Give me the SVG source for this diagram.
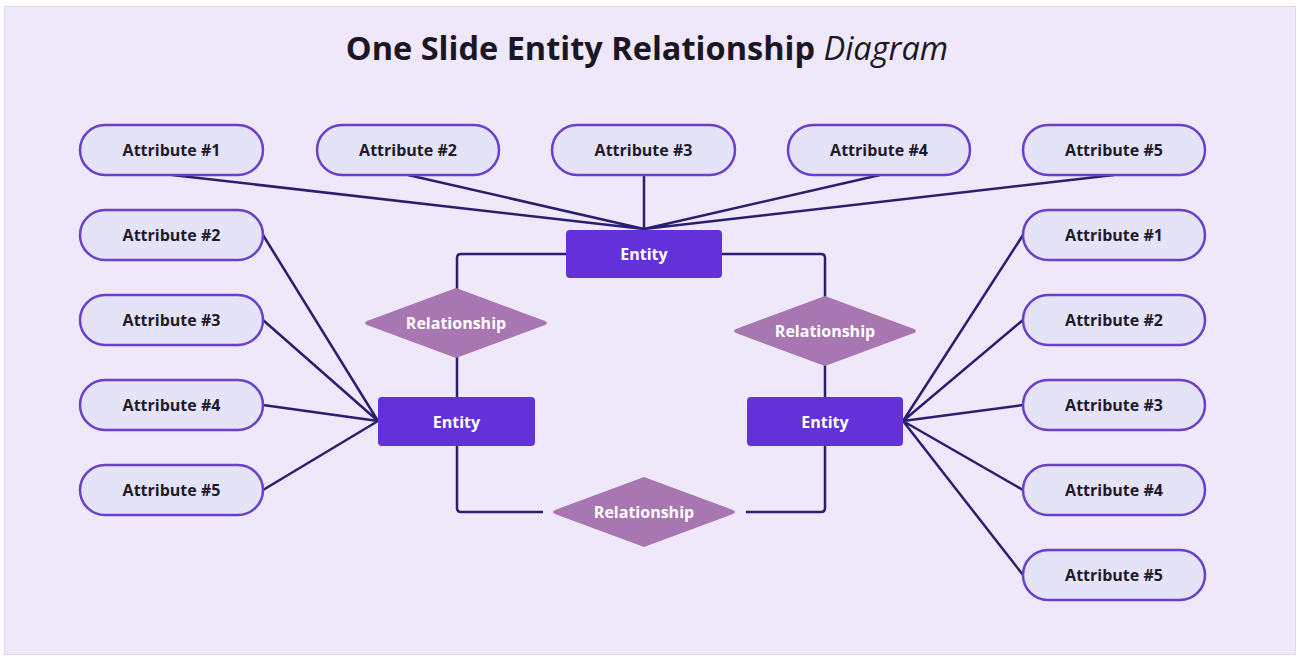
<svg xmlns="http://www.w3.org/2000/svg" width="1300" height="657" viewBox="0 0 1300 657">
<style>
.attr rect{fill:#e5e3f8;stroke:#6a3fcb;stroke-width:2.5}
.attr text{font-family:"Open Sans","Noto Sans",sans-serif;font-weight:700;font-size:16px;fill:#1e1a2c;text-anchor:middle}
.ent rect{fill:#6331d9}
.ent text{font-family:"Open Sans","Noto Sans",sans-serif;font-weight:700;font-size:16px;fill:#ffffff;text-anchor:middle}
.rel path{fill:#a877b1}
.rel text{font-family:"Open Sans","Noto Sans",sans-serif;font-weight:700;font-size:16px;fill:#ffffff;text-anchor:middle}
#connectors path{fill:none;stroke:#2a1e6f;stroke-width:2.5;stroke-linejoin:round}
</style>
<rect x="0" y="0" width="1300" height="657" fill="#ffffff"/>
<rect x="4.5" y="6.5" width="1291" height="648" fill="#efe8fb" stroke="#dcd8e6" stroke-width="1"/>
<text x="647" y="60" text-anchor="middle" font-family="'Open Sans','Noto Sans',sans-serif" font-size="32.5" fill="#1a1624"><tspan font-weight="700">One Slide Entity Relationship </tspan><tspan font-style="italic">Diagram</tspan></text>

<g id="connectors">
<path d="M172 175 L644 229 M408 175 L644 229 M644 175 L644 229 M880 175 L644 229 M1114 175 L644 229"/>
<path d="M263 235 L378 421 M263 320 L378 421 M263 405 L378 421 M263 490 L378 421"/>
<path d="M903 421 L1023 235 M903 421 L1023 320 M903 421 L1023 405 M903 421 L1023 490 M903 421 L1023 575"/>
<path d="M566 254 L461 254 Q457 254 457 258 L457 290"/>
<path d="M457 356 L457 397"/>
<path d="M722 254 L821 254 Q825 254 825 258 L825 298"/>
<path d="M825 364 L825 397"/>
<path d="M457 446 L457 508 Q457 512 461 512 L543 512"/>
<path d="M746 512 L821 512 Q825 512 825 508 L825 446"/>
</g>

<g id="attr-top-1" class="attr"><rect x="80" y="125" width="183" height="50" rx="25"/><text x="171.5" y="155.5">Attribute #1</text></g>
<g id="attr-top-2" class="attr"><rect x="317" y="125" width="182" height="50" rx="25"/><text x="408" y="155.5">Attribute #2</text></g>
<g id="attr-top-3" class="attr"><rect x="552" y="125" width="183" height="50" rx="25"/><text x="643.5" y="155.5">Attribute #3</text></g>
<g id="attr-top-4" class="attr"><rect x="788" y="125" width="182" height="50" rx="25"/><text x="879" y="155.5">Attribute #4</text></g>
<g id="attr-top-5" class="attr"><rect x="1023" y="125" width="182" height="50" rx="25"/><text x="1114" y="155.5">Attribute #5</text></g>

<g id="attr-left-2" class="attr"><rect x="80" y="210" width="183" height="50" rx="25"/><text x="171.5" y="240.5">Attribute #2</text></g>
<g id="attr-left-3" class="attr"><rect x="80" y="295" width="183" height="50" rx="25"/><text x="171.5" y="325.5">Attribute #3</text></g>
<g id="attr-left-4" class="attr"><rect x="80" y="380" width="183" height="50" rx="25"/><text x="171.5" y="410.5">Attribute #4</text></g>
<g id="attr-left-5" class="attr"><rect x="80" y="465" width="183" height="50" rx="25"/><text x="171.5" y="495.5">Attribute #5</text></g>

<g id="attr-right-1" class="attr"><rect x="1023" y="210" width="182" height="50" rx="25"/><text x="1114" y="240.5">Attribute #1</text></g>
<g id="attr-right-2" class="attr"><rect x="1023" y="295" width="182" height="50" rx="25"/><text x="1114" y="325.5">Attribute #2</text></g>
<g id="attr-right-3" class="attr"><rect x="1023" y="380" width="182" height="50" rx="25"/><text x="1114" y="410.5">Attribute #3</text></g>
<g id="attr-right-4" class="attr"><rect x="1023" y="465" width="182" height="50" rx="25"/><text x="1114" y="495.5">Attribute #4</text></g>
<g id="attr-right-5" class="attr"><rect x="1023" y="550" width="182" height="50" rx="25"/><text x="1114" y="580.5">Attribute #5</text></g>

<g id="entity-top" class="ent"><rect x="566" y="230" width="156" height="48" rx="4"/><text x="644" y="260">Entity</text></g>
<g id="entity-left" class="ent"><rect x="378" y="397" width="157" height="49" rx="4"/><text x="456.5" y="427.5">Entity</text></g>
<g id="entity-right" class="ent"><rect x="747" y="397" width="156" height="49" rx="4"/><text x="825" y="427.5">Entity</text></g>

<g id="rel-left" class="rel"><path d="M456 288 L545 321 Q549 323 545 325 L456 358 L367 325 Q363 323 367 321 Z"/><text x="456" y="329">Relationship</text></g>
<g id="rel-right" class="rel"><path d="M825 296 L914 329 Q918 331 914 333 L825 366 L736 333 Q732 331 736 329 Z"/><text x="825" y="337">Relationship</text></g>
<g id="rel-bottom" class="rel"><path d="M644 477 L733 510 Q737 512 733 514 L644 547 L555 514 Q551 512 555 510 Z"/><text x="644" y="518">Relationship</text></g>
</svg>
